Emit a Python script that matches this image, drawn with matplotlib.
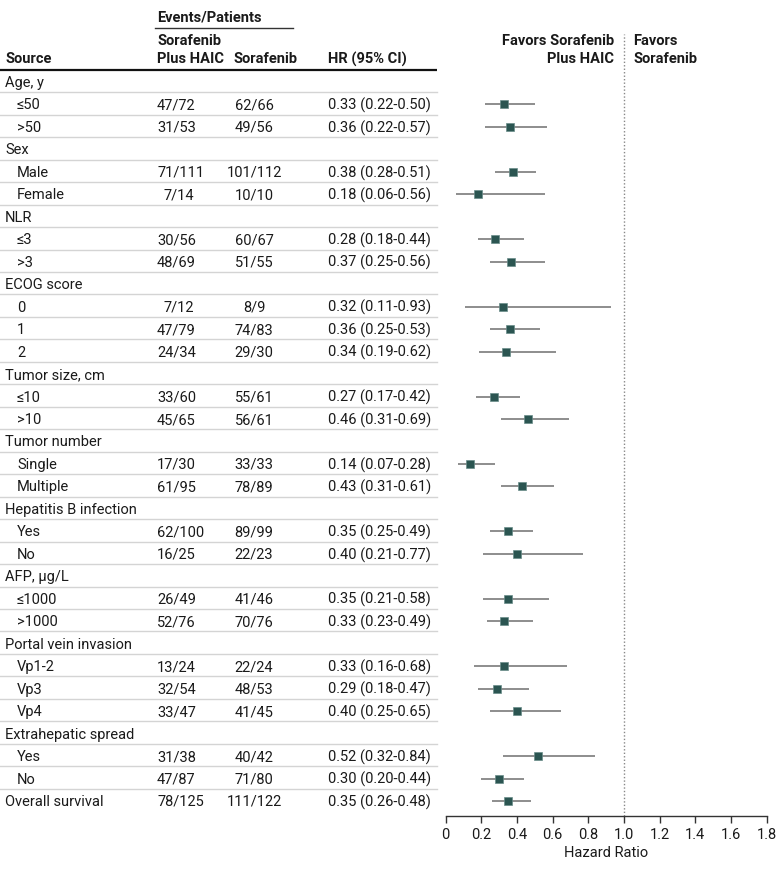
import matplotlib
matplotlib.use("Agg")
import matplotlib.pyplot as plt
from matplotlib.ticker import FixedLocator

plt.rcParams['font.family'] = ['Roboto', 'DejaVu Sans']

# ---------------- data ----------------
groups = ["Age, y", "Sex", "NLR", "ECOG score", "Tumor size, cm", "Tumor number",
          "Hepatitis B infection", "AFP, µg/L", "Portal vein invasion", "Extrahepatic spread"]
subgroups = [
    ["≤50", ">50"],
    ["Male", "Female"],
    ["≤3", ">3"],
    ["0", "1", "2"],
    ["≤10", ">10"],
    ["Single", "Multiple"],
    ["Yes", "No"],
    ["≤1000", ">1000"],
    ["Vp1-2", "Vp3", "Vp4"],
    ["Yes", "No"],
]
combo_events = [[47, 31], [71, 7], [30, 48], [7, 47, 24], [33, 45], [17, 61], [62, 16], [26, 52], [13, 32, 33], [31, 47]]
combo_patients = [[72, 53], [111, 14], [56, 69], [12, 79, 34], [60, 65], [30, 95], [100, 25], [49, 76], [24, 54, 47], [38, 87]]
sora_events = [[62, 49], [101, 10], [60, 51], [8, 74, 29], [55, 56], [33, 78], [89, 22], [41, 70], [22, 48, 41], [40, 71]]
sora_patients = [[66, 56], [112, 10], [67, 55], [9, 83, 30], [61, 61], [33, 89], [99, 23], [46, 76], [24, 53, 45], [42, 80]]
hr = [[0.33, 0.36], [0.38, 0.18], [0.28, 0.37], [0.32, 0.36, 0.34], [0.27, 0.46], [0.14, 0.43],
      [0.35, 0.40], [0.35, 0.33], [0.33, 0.29, 0.40], [0.52, 0.30]]
hr_lo = [[0.22, 0.22], [0.28, 0.06], [0.18, 0.25], [0.11, 0.25, 0.19], [0.17, 0.31], [0.07, 0.31],
         [0.25, 0.21], [0.21, 0.23], [0.16, 0.18, 0.25], [0.32, 0.20]]
hr_hi = [[0.50, 0.57], [0.51, 0.56], [0.44, 0.56], [0.93, 0.53, 0.62], [0.42, 0.69], [0.28, 0.61],
         [0.49, 0.77], [0.58, 0.49], [0.68, 0.47, 0.65], [0.84, 0.44]]
overall_label = "Overall survival"
overall_combo = (78, 125)
overall_sora = (111, 122)
overall_hr = (0.35, 0.26, 0.48)
xticks = [0, 0.2, 0.4, 0.6, 0.8, 1.0, 1.2, 1.4, 1.6, 1.8]
xticklabels = ["0", "0.2", "0.4", "0.6", "0.8", "1.0", "1.2", "1.4", "1.6", "1.8"]

# ---------------- build rows ----------------
rows = []  # (label, indent, combo, sora, hr tuple or None)
for g, subs, ce, cp, se, sp, h, lo, hi in zip(groups, subgroups, combo_events, combo_patients,
                                               sora_events, sora_patients, hr, hr_lo, hr_hi):
    rows.append((g, False, None, None, None))
    for i, s in enumerate(subs):
        rows.append((s, True, (ce[i], cp[i]), (se[i], sp[i]), (h[i], lo[i], hi[i])))
rows.append((overall_label, False, overall_combo, overall_sora, overall_hr))

W, H = 780, 870
fig = plt.figure(figsize=(W / 100, H / 100), dpi=100)

# pixel geometry
y0 = 83.0
dy = (802.0 - 83.0) / (len(rows) - 1)
ax_top, ax_bot = 35.0, 817.0
ax_left, ax_right = 445.5, 766.5

# table axes in pixel coords
tax = fig.add_axes([0, 0, 1, 1])
tax.set_xlim(0, W)
tax.set_ylim(H, 0)
tax.axis("off")

fs = 10.5
col_src = 5
col_src_ind = 17
col_c = 157   # left edge col 1
col_s = 254   # center col 2
col_hr = 328
line_r = 437
digit_w = 6.3
text_color = "#1a1a1a"

# headers
tax.text(157, 17, "Events/Patients", fontsize=fs, fontweight="bold", va="center", ha="left", color=text_color)
tax.plot([155, 293], [29, 29], color="#333333", lw=1.0)
tax.text(157, 41, "Sorafenib", fontsize=fs, fontweight="bold", va="center", ha="left", color=text_color)
tax.text(157, 59, "Plus HAIC", fontsize=fs, fontweight="bold", va="center", ha="left", color=text_color)
tax.text(col_src, 59, "Source", fontsize=fs, fontweight="bold", va="center", ha="left", color=text_color)
tax.text(234, 59, "Sorafenib", fontsize=fs, fontweight="bold", va="center", ha="left", color=text_color)
tax.text(col_hr, 59, "HR (95% CI)", fontsize=fs, fontweight="bold", va="center", ha="left", color=text_color)
tax.plot([0, line_r], [70.5, 70.5], color="#111111", lw=1.6, solid_capstyle="butt")

tax.text(614, 41, "Favors Sorafenib", fontsize=fs, fontweight="bold", va="center", ha="right", color=text_color)
tax.text(614, 59, "Plus HAIC", fontsize=fs, fontweight="bold", va="center", ha="right", color=text_color)
tax.text(633, 41, "Favors", fontsize=fs, fontweight="bold", va="center", ha="left", color=text_color)
tax.text(633, 59, "Sorafenib", fontsize=fs, fontweight="bold", va="center", ha="left", color=text_color)

for i, (label, ind, c, s, h) in enumerate(rows):
    y = y0 + i * dy
    tax.text(col_src_ind if ind else col_src, y, label, fontsize=fs, va="center", ha="left", color=text_color)
    if c is not None:
        xoff = digit_w if c[0] < 10 else 0
        tax.text(col_c + xoff, y, f"{c[0]}/{c[1]}", fontsize=fs, va="center", ha="left", color=text_color)
        tax.text(col_s, y, f"{s[0]}/{s[1]}", fontsize=fs, va="center", ha="center", color=text_color)
        tax.text(col_hr, y, f"{h[0]:.2f} ({h[1]:.2f}-{h[2]:.2f})", fontsize=fs, va="center", ha="left",
                 color=text_color)
    if i < len(rows) - 1:
        ysep = y + dy / 2 - 1
        tax.plot([0, line_r], [ysep, ysep], color="#d4d4d4", lw=1.0)

# forest axes
fax = fig.add_axes([ax_left / W, 1 - ax_bot / H, (ax_right - ax_left) / W, (ax_bot - ax_top) / H])
fax.set_xlim(0, 1.8)
top_u = (ax_top - y0) / dy
bot_u = (ax_bot - y0) / dy
fax.set_ylim(bot_u, top_u)
fax.patch.set_alpha(0)
for sp_ in ["top", "right", "left"]:
    fax.spines[sp_].set_visible(False)
fax.spines["bottom"].set_color("#333333")
fax.spines["bottom"].set_linewidth(1.0)
fax.set_yticks([])
fax.xaxis.set_major_locator(FixedLocator(xticks))
fax.set_xticklabels(xticklabels, fontsize=fs, color=text_color)
fax.tick_params(axis="x", length=5, width=1.0, color="#333333", pad=3)
fax.set_xlabel("Hazard Ratio", fontsize=fs, color=text_color, labelpad=3)

fax.axvline(1.0, color="#888888", lw=1.0, ls=(0, (1, 1.5)))

for i, (label, ind, c, s, h) in enumerate(rows):
    if h is None:
        continue
    fax.plot([h[1], h[2]], [i, i], color="#7a7a7a", lw=1.2, solid_capstyle="butt", zorder=2)
    fax.plot([h[0]], [i], marker="s", ms=6.2, color="#2b5551", mec="#6a8d8a", mew=0.5, zorder=3)

fig.savefig("out.png", dpi=100)
